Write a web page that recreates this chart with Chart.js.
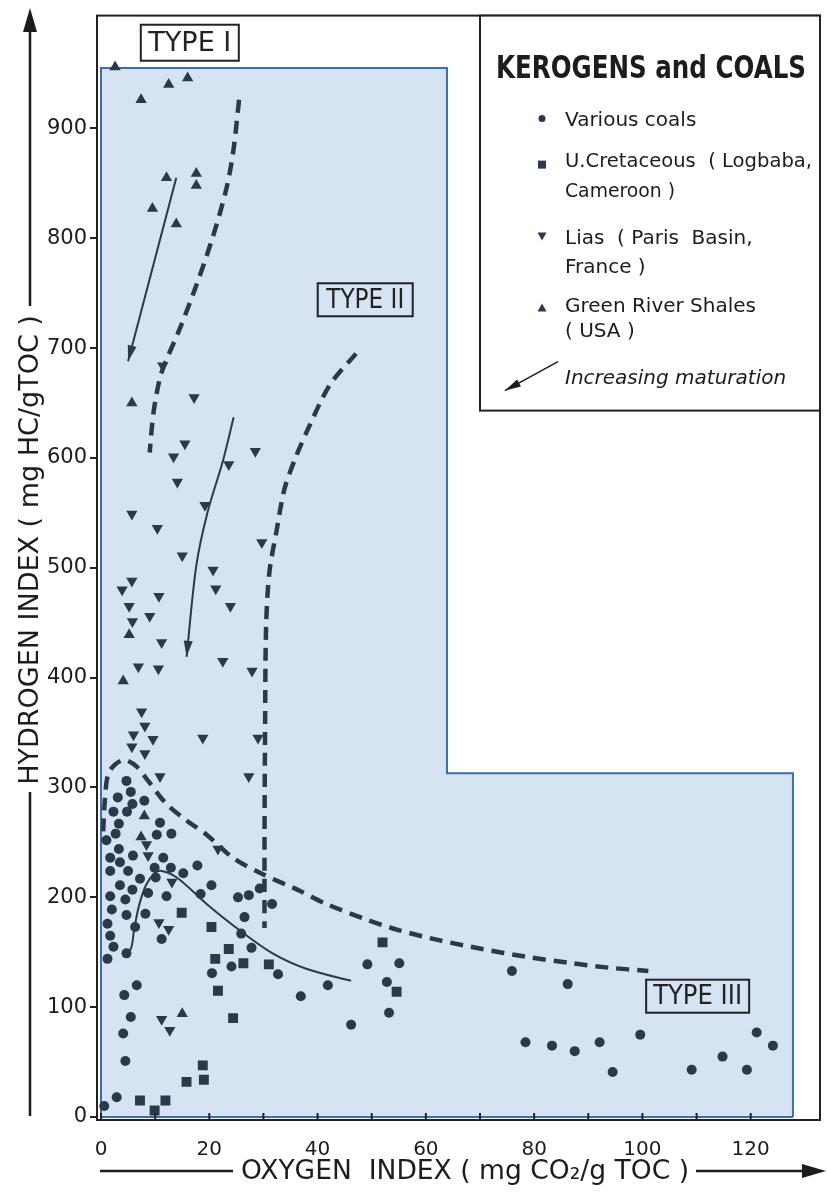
<!DOCTYPE html>
<html>
<head>
<meta charset="utf-8">
<script src="https://cdn.jsdelivr.net/npm/chart.js@4.4.0/dist/chart.umd.min.js"></script>
<style>
  html, body { margin: 0; padding: 0; background: #fff; }
  #wrap { width: 827px; height: 1201px; }
</style>
</head>
<body>
<div id="wrap"><canvas id="chart" width="827" height="1201"></canvas></div>
<script>
// Oxygen index (x) / hydrogen index (y) pairs
const variousCoals = [
  [4.7,306],[5.5,296],[3.1,291],[5.8,285],[8.0,288],[2.3,278],[4.8,278],[10.9,268],[3.3,267],[2.7,258],
  [10.3,257],[13.0,258],[1.0,252],[3.3,244],[5.9,238],[1.7,236],[11.5,236],[3.5,232],[17.8,229],[9.9,227],
  [12.9,227],[15.2,222],[1.7,224],[5.0,224],[7.2,217],[10.1,218],[20.4,211],[3.5,211],[5.8,207],[8.7,204],
  [18.4,203],[1.7,201],[4.5,198],[12.1,201],[2.0,189],[4.7,184],[8.2,185],[1.2,176],[6.3,173],[11.2,162],
  [1.7,165],[2.3,155],[1.2,144],[4.7,149],
  [27.3,202],[25.3,200],[29.3,208],[31.6,194],[26.5,182],[25.9,167],[27.8,154],[24.1,137],[20.5,131],[32.7,130],
  [36.9,110],[41.9,120],[46.2,84],[49.2,139],[55.1,140],[52.8,123],[53.2,95],[75.9,133],[86.2,121],[78.4,68],
  [83.3,65],[87.5,60],[92.1,68],[94.5,41],[99.6,75],[109.1,43],[114.8,55],[119.3,43],[121.1,77],[124.1,65],
  [6.6,120],[4.3,111],[5.5,91],[4.1,76],[4.5,51],[2.9,18],[0.6,10]
];
const uCretaceous = [
  [14.9,186],[20.4,173],[21.1,144],[21.6,115],[23.6,153],[26.3,140],[31.0,139],[24.4,90],
  [18.8,47],[15.8,32],[19.0,34],[7.2,15],[11.9,15],[9.9,6],[52.0,159],[54.6,114]
];
const lias = [
  [11.4,684],[17.2,655],[15.5,613],[13.4,601],[28.5,606],[23.6,594],[14.1,578],[19.2,557],[5.7,549],[10.4,536],
  [29.7,523],[15.0,511],[20.7,498],[5.7,488],[3.9,480],[21.2,481],[10.7,474],[23.9,465],[5.2,465],[9.0,456],
  [5.8,451],[11.2,432],[6.9,410],[10.6,408],[22.5,415],[27.9,406],[7.5,369],[8.1,356],[6.0,348],[9.6,344],
  [18.8,345],[29.0,345],[5.7,337],[8.1,331],[10.9,310],[27.3,310],[8.4,248],[8.7,238],[21.6,244],[13.1,214],
  [10.7,177],[12.5,171],[11.2,89],[12.7,79]
];
const greenRiver = [
  [2.6,956],[7.4,926],[12.5,940],[16.0,946],[12.1,855],[17.6,859],[17.6,848],[9.5,827],[13.9,813],
  [5.7,650],[5.2,439],[4.1,397],[8.0,274],[7.4,255],[15.0,94]
];

// Evolution paths
const typeIPath = [[25.5,926],[24.4,878],[23.1,844],[20.7,802],[17.6,757],[14.5,717],[11.2,678],[9.9,648],[9.3,623],[9.0,605]];
const typeIIPath = [[47.1,695],[42.2,666],[38.2,626],[36.0,601],[33.9,572],[32.4,533],[31.1,496],[30.5,448],[30.3,350],[30.2,250],[30.2,172]];
const typeIIIPath = [[0.4,260],[0.7,288],[1.3,312],[2.6,321],[4.4,325],[6.6,319],[8.7,306],[12.1,285],[15.8,270],[19.5,257],
  [24.4,236],[29.9,221],[36.7,206],[41.6,194],[48.9,180],[55.1,170],[62.4,161],[70.4,153],[78.4,146],[87.0,140],[93.7,136],[101.1,133]];
const coalTrend = [[4.2,147],[5.5,153],[6.1,170],[7.0,192],[8.3,211],[9.9,222],[11.2,224],[14.0,218],[19.5,194],[25.6,170],[31.7,149],[37.9,135],[46.2,124]];
const maturationI = [[13.9,855],[5.0,688]];
const maturationII = [[24.5,637],[22.5,597],[19.7,551],[17.6,502],[15.8,419]];

// shaded L-shaped zone (outline, filled down to zero) and its base edge
const zone = [[0,0],[0,955],[63.9,955],[63.9,313],[127.8,313],[127.8,0]];
const zoneBase = [[0,0],[127.8,0]];

const xTicks = [0,10,20,30,40,50,60,70,80,90,100,110,120];
const yTicks = [0,100,200,300,400,500,600,700,800,900];

const typeLabels = [
  { text: 'TYPE I', x: 16.4, y: 978, w: 98, h: 36, tw: 84 },
  { text: 'TYPE II', x: 48.8, y: 744, w: 95, h: 33, tw: 78 },
  { text: 'TYPE III', x: 110.2, y: 110, w: 103, h: 33, tw: 89 }
];

const INK = '#2b3a4b';
const FONT = "'DejaVu Sans', 'Liberation Sans', sans-serif";
const ZONE_FILL = 'rgb(213,227,243)';
const ZONE_EDGE = 'rgb(62,110,168)';

const pts = arr => arr.map(p => ({ x: p[0], y: p[1] }));

function arrowHead(ctx, x0, y0, x1, y1, len, half) {
  const a = Math.atan2(y1 - y0, x1 - x0);
  ctx.beginPath();
  ctx.moveTo(x1, y1);
  ctx.lineTo(x1 - len * Math.cos(a) + half * Math.sin(a), y1 - len * Math.sin(a) - half * Math.cos(a));
  ctx.lineTo(x1 - len * Math.cos(a) - half * Math.sin(a), y1 - len * Math.sin(a) + half * Math.cos(a));
  ctx.closePath();
  ctx.fill();
}

const overlay = {
  id: 'overlay',
  beforeDraw(chart) {
    const ctx = chart.ctx;
    ctx.save();
    ctx.fillStyle = '#fff';
    ctx.fillRect(0, 0, chart.width, chart.height);
    ctx.restore();
  },
  afterDraw(chart) {
    const { ctx, chartArea: ca, scales: { x, y } } = chart;
    ctx.save();

    // frame
    ctx.strokeStyle = '#222';
    ctx.lineWidth = 2;
    ctx.strokeRect(ca.left, ca.top, ca.right - ca.left, ca.bottom - ca.top);

    // x tick marks pointing inward
    xTicks.forEach(v => {
      const px = x.getPixelForValue(v);
      ctx.beginPath();
      ctx.moveTo(px, ca.bottom);
      ctx.lineTo(px, ca.bottom - 7);
      ctx.stroke();
    });

    // maturation arrow heads
    ctx.fillStyle = INK;
    [maturationI, maturationII].forEach(path => {
      const a = path[path.length - 2], b = path[path.length - 1];
      arrowHead(ctx, x.getPixelForValue(a[0]), y.getPixelForValue(a[1]),
        x.getPixelForValue(b[0]), y.getPixelForValue(b[1]), 16, 4.5);
    });

    // type boxes
    ctx.strokeStyle = '#222';
    ctx.lineWidth = 2;
    ctx.fillStyle = '#222';
    ctx.textAlign = 'center';
    ctx.textBaseline = 'middle';
    typeLabels.forEach(l => {
      const cx = x.getPixelForValue(l.x), cy = y.getPixelForValue(l.y);
      ctx.strokeRect(cx - l.w / 2, cy - l.h / 2, l.w, l.h);
      ctx.font = '27px ' + FONT;
      ctx.fillText(l.text, cx, cy + 1, l.tw);
    });

    // legend box
    const lx = ca.right - 340, ly = ca.top;
    ctx.fillStyle = '#fff';
    ctx.fillRect(lx, ly, 340, 395);
    ctx.strokeRect(lx, ly, 340, 395);
    ctx.fillStyle = '#1c1c1c';
    ctx.textAlign = 'left';
    ctx.textBaseline = 'alphabetic';
    ctx.font = 'bold 32px ' + FONT;
    ctx.fillText('KEROGENS and COALS', lx + 16, ly + 62, 310);

    ctx.font = '20px ' + FONT;
    const tx = lx + 85;
    [['Various coals', 110, 141], ['U.Cretaceous  ( Logbaba,', 151, 247], ['Cameroon )', 181, 110],
     ['Lias  ( Paris  Basin,', 228, 205], ['France )', 257, 86], ['Green River Shales', 296, 192], ['( USA )', 321, 80]]
      .forEach(r => ctx.fillText(r[0], tx, ly + r[1], r[2]));
    ctx.font = 'italic 20px ' + FONT;
    ctx.fillText('Increasing maturation', tx, ly + 368, 238);

    ctx.fillStyle = INK;
    const mx = lx + 62;
    ctx.beginPath(); ctx.arc(mx, ly + 103, 3.5, 0, Math.PI * 2); ctx.fill();
    ctx.fillRect(mx - 4, ly + 145, 8, 8);
    ctx.beginPath(); ctx.moveTo(mx - 4.5, ly + 217); ctx.lineTo(mx + 4.5, ly + 217); ctx.lineTo(mx, ly + 225); ctx.closePath(); ctx.fill();
    ctx.beginPath(); ctx.moveTo(mx - 4.5, ly + 296); ctx.lineTo(mx + 4.5, ly + 296); ctx.lineTo(mx, ly + 288); ctx.closePath(); ctx.fill();

    ctx.strokeStyle = '#1c1c1c';
    ctx.lineWidth = 1.5;
    ctx.beginPath(); ctx.moveTo(lx + 78, ly + 346); ctx.lineTo(lx + 25, ly + 375); ctx.stroke();
    ctx.fillStyle = '#1c1c1c';
    arrowHead(ctx, lx + 78, ly + 346, lx + 25, ly + 375, 16, 4);

    // axis titles with arrows
    ctx.strokeStyle = '#1c1c1c';
    ctx.lineWidth = 2.5;
    ctx.beginPath(); ctx.moveTo(30, 1116); ctx.lineTo(30, 792); ctx.stroke();
    ctx.beginPath(); ctx.moveTo(30, 306); ctx.lineTo(30, 28); ctx.stroke();
    arrowHead(ctx, 30, 40, 30, 8, 24, 7);

    ctx.save();
    ctx.translate(30, 550);
    ctx.rotate(-Math.PI / 2);
    ctx.textAlign = 'center';
    ctx.textBaseline = 'middle';
    ctx.font = '27px ' + FONT;
    ctx.fillText('HYDROGEN INDEX ( mg HC/gTOC )', 0, 1, 470);
    ctx.restore();

    ctx.beginPath(); ctx.moveTo(100, 1171); ctx.lineTo(233, 1171); ctx.stroke();
    ctx.beginPath(); ctx.moveTo(696, 1171); ctx.lineTo(806, 1171); ctx.stroke();
    arrowHead(ctx, 790, 1171, 826, 1171, 24, 7);
    ctx.textAlign = 'center';
    ctx.textBaseline = 'middle';
    ctx.font = '27px ' + FONT;
    ctx.fillText('OXYGEN  INDEX ( mg CO₂/g TOC )', 465, 1172, 448);

    ctx.restore();
  }
};

const markerBase = { backgroundColor: INK, borderColor: INK, borderWidth: 0, showLine: false };
const lineBase = { showLine: true, pointRadius: 0, borderColor: INK, backgroundColor: INK, fill: false };

new Chart(document.getElementById('chart'), {
  type: 'scatter',
  data: {
    datasets: [
      { type: 'line', label: 'zone', data: pts(zone), pointRadius: 0, tension: 0,
        fill: 'origin', backgroundColor: ZONE_FILL, borderColor: ZONE_EDGE, borderWidth: 2, order: 100 },
      { type: 'line', label: 'zone base', data: pts(zoneBase), pointRadius: 0, tension: 0,
        fill: false, borderColor: ZONE_EDGE, borderWidth: 2, order: 99 },
      { ...lineBase, label: 'Type I', data: pts(typeIPath), borderWidth: 4.5, borderDash: [13, 8], tension: 0.3 },
      { ...lineBase, label: 'Type II', data: pts(typeIIPath), borderWidth: 4.5, borderDash: [13, 8], tension: 0.3 },
      { ...lineBase, label: 'Type III', data: pts(typeIIIPath), borderWidth: 4.5, borderDash: [13, 8], tension: 0.3 },
      { ...lineBase, label: 'coal trend', data: pts(coalTrend), borderWidth: 2, tension: 0.35 },
      { ...lineBase, label: 'maturation I', data: pts(maturationI), borderWidth: 2, tension: 0 },
      { ...lineBase, label: 'maturation II', data: pts(maturationII), borderWidth: 2, tension: 0.3 },
      { ...markerBase, label: 'Various coals', data: pts(variousCoals), pointStyle: 'circle', pointRadius: 5 },
      { ...markerBase, label: 'U.Cretaceous', data: pts(uCretaceous), pointStyle: 'rect', pointRadius: 7 },
      { ...markerBase, label: 'Lias', data: pts(lias), pointStyle: 'triangle', pointRotation: 180, pointRadius: 6.5 },
      { ...markerBase, label: 'Green River Shales', data: pts(greenRiver), pointStyle: 'triangle', pointRadius: 6.5 }
    ]
  },
  options: {
    responsive: false,
    animation: false,
    layout: { padding: { top: 12, right: 5, left: 0, bottom: 0 } },
    plugins: { legend: { display: false }, tooltip: { enabled: false } },
    scales: {
      x: {
        type: 'linear',
        min: -0.74,
        max: 132.8,
        afterBuildTicks: s => { s.ticks = xTicks.map(v => ({ value: v })); },
        afterFit: s => { s.height = 81; },
        grid: { display: false },
        border: { display: false },
        ticks: {
          autoSkip: false, maxRotation: 0, padding: 10, color: '#1c1c1c',
          font: { family: FONT, size: 20 },
          callback: v => (v % 20 === 0 ? String(v) : '')
        }
      },
      y: {
        type: 'linear',
        min: -2.7,
        max: 1002.7,
        afterBuildTicks: s => { s.ticks = yTicks.map(v => ({ value: v })); },
        afterFit: s => { s.width = 97; },
        grid: { drawOnChartArea: false, drawTicks: true, tickLength: 7, color: '#222', lineWidth: 2 },
        border: { display: false },
        ticks: { padding: 3, color: '#1c1c1c', font: { family: FONT, size: 21 } }
      }
    }
  },
  plugins: [overlay]
});
</script>
</body>
</html>
